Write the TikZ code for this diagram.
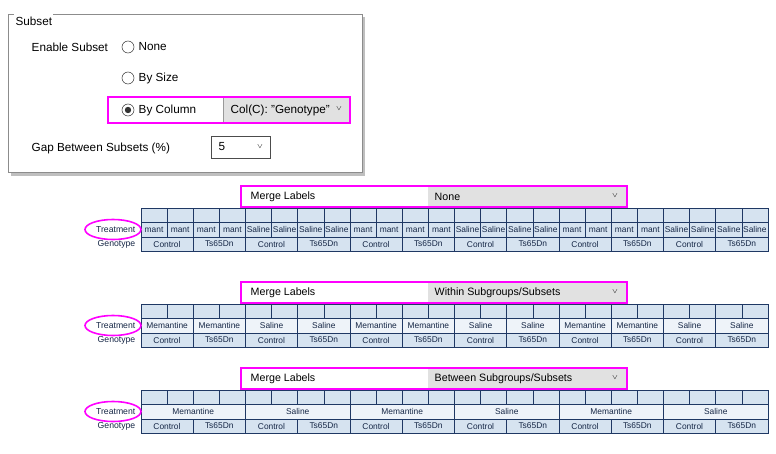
\documentclass[tikz,border=0pt]{standalone}
\usepackage{fontspec}
\setmainfont{Liberation Sans}
\definecolor{hilite}{HTML}{FF00FF}
\definecolor{cellblue}{HTML}{D6E3F0}
\definecolor{celllight}{HTML}{EEF3F9}
\definecolor{gridnavy}{HTML}{1F3864}
\definecolor{dropgray}{HTML}{E1E1E1}
\tikzset{
  radio/.style={circle,draw=black!80,fill=white,minimum size=9pt,inner sep=0pt},
  dlgtext/.style={anchor=west,font=\fontsize{8.8}{10}\selectfont},
  celltext/.style={font=\fontsize{6.3}{7}\selectfont,text=gridnavy!70!black},
  rowlabel/.style={anchor=east,font=\fontsize{6.5}{7}\selectfont,text=gridnavy!70!black},
  markbox/.style={draw=hilite,line width=1.5pt}
}
\begin{document}
\begin{tikzpicture}[x=0.75pt,y=-0.75pt]
\useasboundingbox (0,0) rectangle (776,454);
% dialog
\fill[black!25] (11,17) rectangle (365,176);
\draw[black!45,fill=white] (8,14) rectangle (362,172);
\node[dlgtext,fill=white,inner xsep=1pt] (title) at (14,21) {Subset};
\node[dlgtext] (enable) at (27,47) {Enable Subset};
\node[radio] (rnone) at (128,47) {};
\node[dlgtext] at (134,47) {None};
\node[radio] (rsize) at (128,78) {};
\node[dlgtext] at (134,78) {By Size};
\fill[dropgray] (223,98) rectangle (349,122);
\draw[black!40] (223,98) -- (223,122);
\node[radio] (rcol) at (128,110) {};
\fill[black!80] (rcol) circle (3.2);
\node[dlgtext] at (134,110) {By Column};
\node[dlgtext] (colsel) at (226,110) {Col(C): "Genotype"};
\node[font=\tiny] at (339,109) {$\vee$};
\draw[markbox] (108,97) rectangle (350,123);
\node[dlgtext] (gap) at (27,148) {Gap Between Subsets (\%)};
\draw[black!70,fill=white] (211,136) rectangle (270,158);
\node[dlgtext] (gapval) at (214,147) {5};
\node[font=\tiny] at (260,147) {$\vee$};
% merge label tables
\foreach \ty/\mode/\tsp in {186/None/1,282/Within Subgroups\slash Subsets/2,368/Between Subgroups\slash Subsets/4}{
  \begin{scope}[shift={(0,\ty)}]
    \fill[dropgray] (428,0) rectangle (626,21);
    \node[dlgtext,font=\fontsize{8}{10}\selectfont] at (246,10.5) {Merge Labels};
    \node[dlgtext,font=\fontsize{8}{10}\selectfont] at (430,10.5) {\mode};
    \node[font=\tiny] at (615,10) {$\vee$};
    \draw[markbox] (241,0) rectangle (627,21);
    % column heads
    \foreach \c in {0,...,23}
      \draw[gridnavy,fill=cellblue] ({141+26.125*\c},22) rectangle ({141+26.125*(\c+1)},36);
    % treatment row
    \foreach \c in {0,...,23}{
      \pgfmathtruncatemacro{\grp}{mod(\c,8)<4 ? 0 : 1}
      \pgfmathtruncatemacro{\isfirst}{mod(\c,\tsp)==0 ? 1 : 0}
      \ifnum\isfirst=1
        \ifnum\tsp=1
          \draw[gridnavy,fill=cellblue] ({141+26.125*\c},36) rectangle ({141+26.125*(\c+1)},51);
          \ifnum\grp=0 \node[celltext] at ({154+26.125*\c},43.5) {mant}; \else \node[celltext] at ({154+26.125*\c},43.5) {Saline}; \fi
        \else
          \draw[gridnavy,fill=celllight] ({141+26.125*\c},36) rectangle ({141+26.125*(\c+\tsp)},51);
          \ifnum\grp=0 \node[celltext] at ({141+26.125*(\c+\tsp/2)},43.5) {Memantine}; \else \node[celltext] at ({141+26.125*(\c+\tsp/2)},43.5) {Saline}; \fi
        \fi
      \fi
    }
    % genotype row
    \foreach \g in {0,...,11}{
      \draw[gridnavy,fill=cellblue] ({141+52.25*\g},51) rectangle ({141+52.25*(\g+1)},65);
      \pgfmathtruncatemacro{\odd}{mod(\g,2)}
      \ifnum\odd=0 \node[celltext] at ({167+52.25*\g},58) {Control}; \else \node[celltext] at ({167+52.25*\g},58) {Ts65Dn}; \fi
    }
    \node[rowlabel] (treat) at (140,43.5) {Treatment};
    \node[rowlabel] (geno) at (140,58) {Genotype};
    \draw[hilite,line width=1.2pt] (113,43.5) ellipse (28 and 10);
  \end{scope}
}
\end{tikzpicture}
\end{document}
